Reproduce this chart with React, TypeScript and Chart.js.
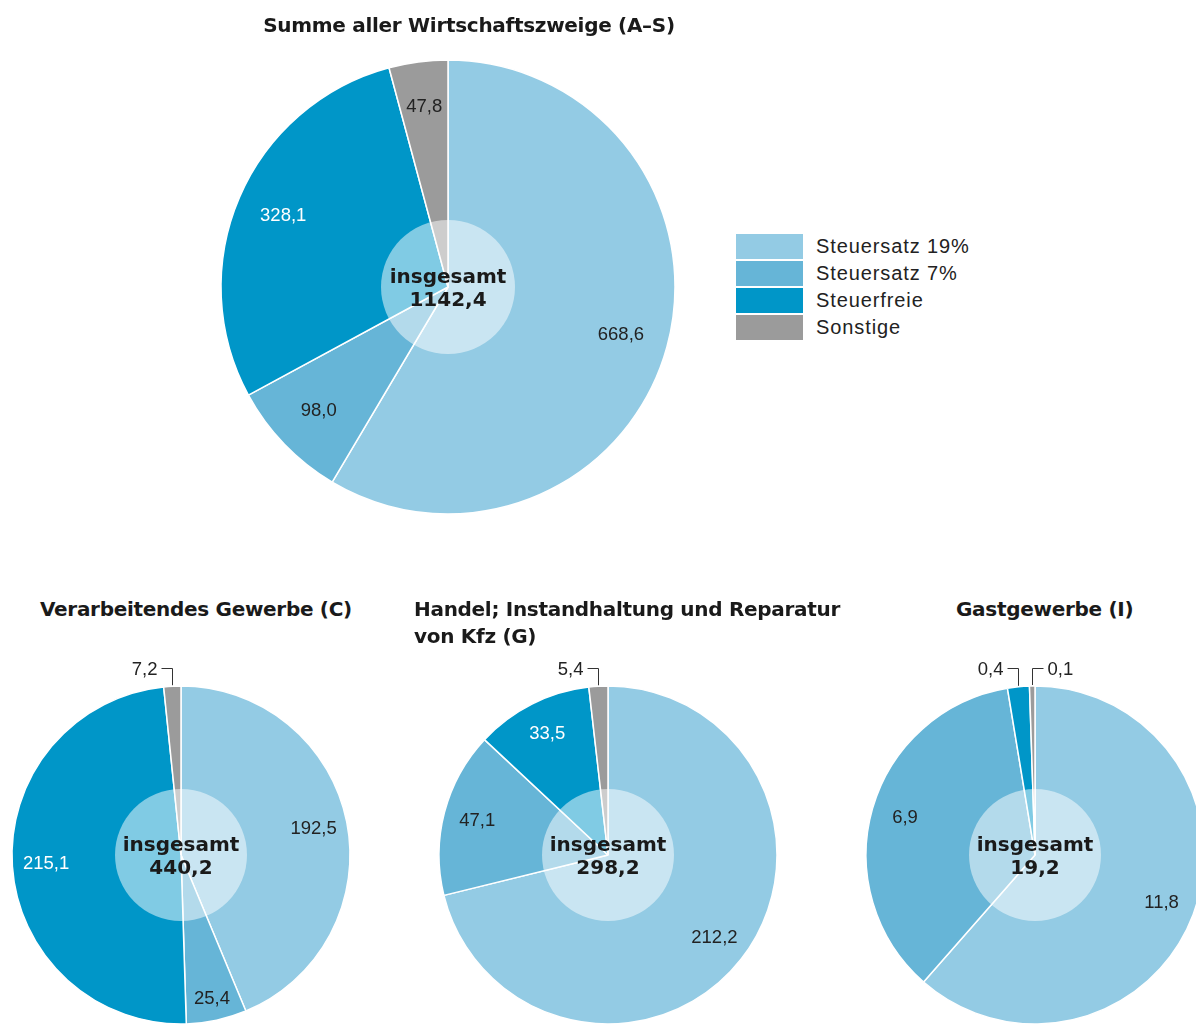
import React, { useEffect, useRef } from "react";
import { Chart, registerables } from "chart.js";

Chart.register(...registerables);

// ---------- data ----------
const categories = ["Steuersatz 19%", "Steuersatz 7%", "Steuerfreie", "Sonstige"];
const titleTotal = "Summe aller Wirtschaftszweige (A–S)";
const titleC = "Verarbeitendes Gewerbe (C)";
const titleG = ["Handel; Instandhaltung und Reparatur", "von Kfz (G)"];
const titleI = "Gastgewerbe (I)";
const valuesTotal = [668.6, 98.0, 328.1, 47.8];
const valuesC = [192.5, 25.4, 215.1, 7.2];
const valuesG = [212.2, 47.1, 33.5, 5.4];
const valuesI = [11.8, 6.9, 0.4, 0.1];
const totals = [1142.4, 440.2, 298.2, 19.2];
const centerWord = "insgesamt";

// ---------- styles ----------
const colors = ["#93cbe4", "#66b5d7", "#0096c8", "#9b9b9b"];
const labelColors = ["#222222", "#222222", "#ffffff", "#222222"];
const TITLE_FONT = '"DejaVu Sans", sans-serif';
const TEXT_FONT = '"Liberation Sans", Arial, sans-serif';

type Leader = null | "left" | "right";
interface PieCfg {
  values: number[];
  total: number;
  cx: number;
  cy: number;
  r: number;
  hole: number;
  labelR: number[];
  leaders: Leader[];
}

const pies: PieCfg[] = [
  { values: valuesTotal, total: totals[0], cx: 448, cy: 287, r: 227, hole: 67, labelR: [0.79, 0.79, 0.79, 0.8], leaders: [null, null, null, null] },
  { values: valuesC, total: totals[1], cx: 181, cy: 855, r: 169, hole: 66, labelR: [0.8, 0.87, 0.8, 0.8], leaders: [null, null, null, "left"] },
  { values: valuesG, total: totals[2], cx: 608, cy: 855, r: 169, hole: 66, labelR: [0.8, 0.8, 0.8, 0.8], leaders: [null, null, null, "left"] },
  { values: valuesI, total: totals[3], cx: 1035, cy: 855, r: 169, hole: 66, labelR: [0.8, 0.8, 0.8, 0.8], leaders: [null, null, "left", "right"] },
];

const fmt = (v: number) => v.toFixed(1).replace(".", ",");

function PieChart({ cfg }: { cfg: PieCfg }) {
  const ref = useRef<HTMLCanvasElement>(null);
  const pad = 45;
  const size = 2 * (cfg.r + pad);
  useEffect(() => {
    if (!ref.current) return;
    const overlay = {
      id: "overlay",
      afterDatasetsDraw(chart: any) {
        const ctx = chart.ctx as CanvasRenderingContext2D;
        const meta = chart.getDatasetMeta(0);
        const a0 = meta.data[0] as any;
        const { x, y } = a0.getProps(["x", "y"], true);
        ctx.save();
        // translucent centre disc
        ctx.beginPath();
        ctx.arc(x, y, cfg.hole, 0, Math.PI * 2);
        ctx.fillStyle = "rgba(255,255,255,0.5)";
        ctx.fill();
        // value labels
        ctx.font = `18.5px ${TEXT_FONT}`;
        meta.data.forEach((arc: any, i: number) => {
          const p = arc.getProps(["startAngle", "endAngle", "outerRadius"], true);
          const mid = (p.startAngle + p.endAngle) / 2;
          const text = fmt(cfg.values[i]);
          const leader = cfg.leaders[i];
          if (leader) {
            const dir = leader === "left" ? -1 : 1;
            const ex = Math.round(x + p.outerRadius * Math.cos(mid)) + 0.5;
            const ey = y + p.outerRadius * Math.sin(mid);
            const ly = Math.round(y - p.outerRadius - 18) + 0.5;
            ctx.strokeStyle = "#333333";
            ctx.lineWidth = 1;
            ctx.beginPath();
            ctx.moveTo(ex, ey - 1);
            ctx.lineTo(ex, ly);
            ctx.lineTo(ex + dir * 11, ly);
            ctx.stroke();
            ctx.fillStyle = "#222222";
            ctx.textAlign = dir < 0 ? "right" : "left";
            ctx.textBaseline = "middle";
            ctx.fillText(text, ex + dir * 15, ly + 1);
          } else {
            const lr = p.outerRadius * cfg.labelR[i];
            ctx.fillStyle = labelColors[i];
            ctx.textAlign = "center";
            ctx.textBaseline = "middle";
            ctx.fillText(text, x + lr * Math.cos(mid), y + lr * Math.sin(mid));
          }
        });
        // centre text
        ctx.fillStyle = "#1a1a1a";
        ctx.font = `bold 20px ${TITLE_FONT}`;
        ctx.textAlign = "center";
        ctx.textBaseline = "alphabetic";
        ctx.fillText(centerWord, x, y - 4);
        ctx.fillText(fmt(cfg.total), x, y + 19);
        ctx.restore();
      },
    };
    const chart = new Chart(ref.current, {
      type: "pie",
      data: {
        labels: categories,
        datasets: [
          {
            data: cfg.values,
            backgroundColor: colors,
            borderColor: "#ffffff",
            borderWidth: 1.5,
            radius: cfg.r,
          } as any,
        ],
      },
      options: {
        responsive: false,
        maintainAspectRatio: false,
        animation: false,
        devicePixelRatio: 1,
        layout: { padding: 0 },
        plugins: { legend: { display: false }, tooltip: { enabled: false } },
        events: [],
      },
      plugins: [overlay],
    });
    return () => chart.destroy();
  }, [cfg]);
  return (
    <canvas
      ref={ref}
      width={size}
      height={size}
      style={{ position: "absolute", left: cfg.cx - cfg.r - pad, top: cfg.cy - cfg.r - pad, width: size, height: size }}
    />
  );
}

const titleStyle: React.CSSProperties = {
  position: "absolute",
  fontFamily: TITLE_FONT,
  fontWeight: "bold",
  fontSize: 20,
  lineHeight: "27px",
  letterSpacing: "-0.3px",
  color: "#1a1a1a",
  whiteSpace: "nowrap",
};

export default function App() {
  return (
    <div
      style={{
        position: "fixed",
        left: 0,
        top: 0,
        width: 1196,
        height: 1024,
        overflow: "hidden",
        background: "#ffffff",
      }}
    >
      {pies.map((p, i) => (
        <PieChart key={i} cfg={p} />
      ))}
      <div style={{ ...titleStyle, left: 469, top: 11.5, transform: "translateX(-50%)" }}>{titleTotal}</div>
      <div style={{ ...titleStyle, left: 40, top: 595.5 }}>{titleC}</div>
      <div style={{ ...titleStyle, left: 414, top: 595.5 }}>
        {titleG[0]}
        <br />
        {titleG[1]}
      </div>
      <div style={{ ...titleStyle, left: 956, top: 595.5 }}>{titleI}</div>
      <div style={{ position: "absolute", left: 736, top: 234 }}>
        {categories.map((c, i) => (
          <div key={c} style={{ position: "relative", height: 25, marginBottom: 2 }}>
            <div style={{ position: "absolute", left: 0, top: 0, width: 67, height: 25, background: colors[i] }} />
            <div
              style={{
                position: "absolute",
                left: 80,
                top: 0,
                lineHeight: "25px",
                fontFamily: TEXT_FONT,
                fontSize: 20,
                letterSpacing: "0.9px",
                color: "#222222",
                whiteSpace: "nowrap",
              }}
            >
              {c}
            </div>
          </div>
        ))}
      </div>
    </div>
  );
}
